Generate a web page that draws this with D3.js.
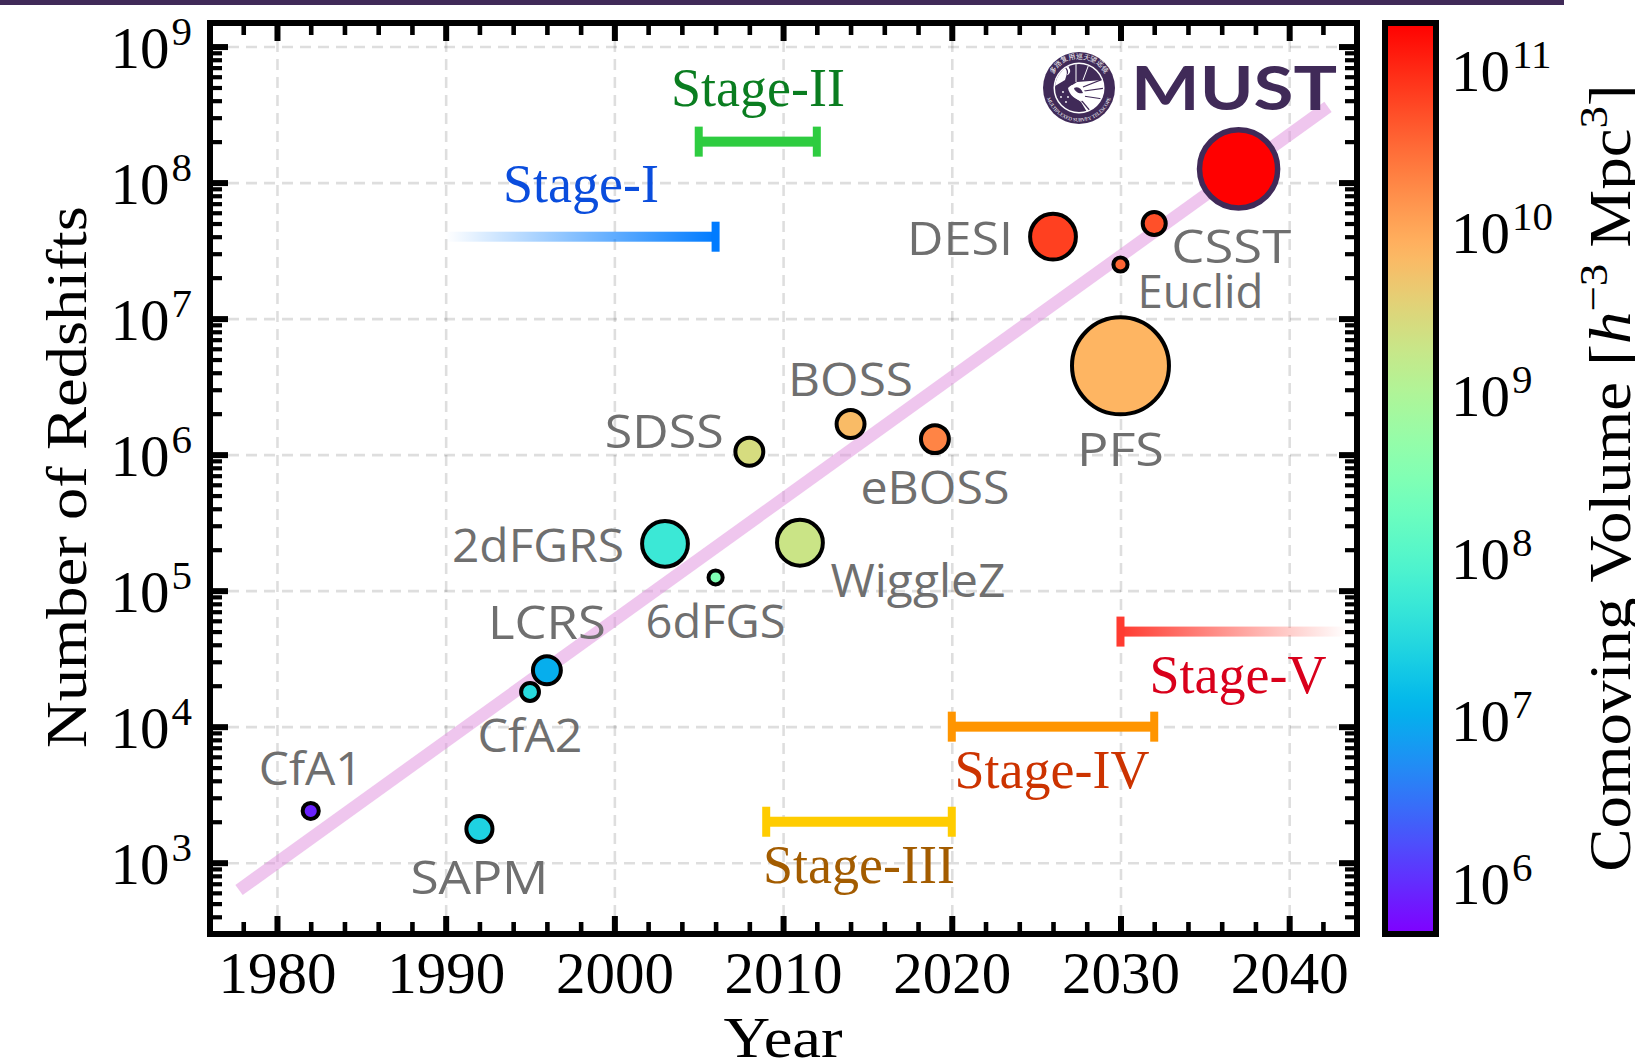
<!DOCTYPE html>
<html>
<head>
<meta charset="utf-8">
<script src="https://d3js.org/d3.v7.min.js"></script>
<style>
html, body { margin: 0; padding: 0; background: white; overflow: hidden; }
text { font-family: "Liberation Serif", serif; }
.survey { font-family: "Open Sans", sans-serif; font-size: 46px; fill: #6f6f6f; }
</style>
</head>
<body>
<div id="chart"></div>
<script>
// surveys
var surveys = ["CfA1", "SAPM", "CfA2", "LCRS", "2dFGRS", "6dFGS", "SDSS", "WiggleZ", "BOSS", "eBOSS", "PFS", "DESI", "Euclid", "CSST", "MUST"];
var years = [1982, 1992, 1995, 1996, 2003, 2006, 2008, 2011, 2014, 2019, 2030, 2026, 2030, 2032, 2037];
var redshifts = [2400, 1770, 18000, 26000, 221000, 125000, 1050000, 225000, 1680000, 1300000, 4500000, 40000000, 25000000, 50000000, 126000000];
var volumes = [8.5e5, 2.6e7, 3.4e7, 1.07e7, 5.4e7, 3e8, 2.66e9, 2e9, 6.5e9, 2e10, 7.4e9, 6.6e10, 3.5e10, 5e10, 1.85e11];
var markerArea = [2.6, 6.8, 3.2, 7.8, 21, 2, 7.8, 21, 7.8, 7.8, 94, 21, 2, 5.3, 61];

// stages
var stageNames = ["Stage-I", "Stage-II", "Stage-III", "Stage-IV", "Stage-V"];
var stageStart = [1990, 2005, 2009, 2020, 2030];
var stageEnd = [2006, 2012, 2020, 2032, 2043.4];
var stageCounts = [4e7, 2e8, 2000, 1e4, 5e4];

// trend line
var trendYears = [1977.75, 2042.3];
var trendCounts = [630, 3.6e8];

// ticks
var yearTicks = [1980, 1990, 2000, 2010, 2020, 2030, 2040];
var countTicks = [1e3, 1e4, 1e5, 1e6, 1e7, 1e8, 1e9];
var volumeTicks = [1e6, 1e7, 1e8, 1e9, 1e10, 1e11];

// label placement, pixels from the marker, and the width each label takes
var labelDx = [0, 0, 0, 0, -127, 0, -85, 118, 0, 0, 0, -93, 80, 77, 0];
var labelDy = [-26, 65, 60, -31, 18, 61, -4, 54, -28, 65, 100, 18, 44, 39, 0];
var labelWidth = [104, 138, 105, 118, 172, 140, 119, 175, 125, 149, 87, 106, 126, 120, 0];

// stage styling
var stageBarColor = ["#007bff", "#2ecc40", "#ffcc00", "#ff9500", "#ff3b30"];
var stageTextColor = ["#0a4ddd", "#0a7d20", "#a35c00", "#cc3300", "#d9001b"];
var stageTextX = [581, 758, 859, 1052, 1238];
var stageTextY = [202, 106, 883, 788, 693];

var w = 1635, h = 1060;
var margin = {top: 23, right: 278, bottom: 126, left: 210},
    width = w - margin.left - margin.right,
    height = h - margin.top - margin.bottom;

var dark = "#402a58";

var svg = d3.select("#chart").append("svg")
    .attr("width", w)
    .attr("height", h)
    .style("display", "block");

var defs = svg.append("defs");

svg.append("rect").attr("x", 0).attr("y", 0).attr("width", 1564).attr("height", 5).attr("fill", dark);

var x = d3.scaleLinear().domain([1976.03, 2044.02]).range([margin.left, margin.left + width]);
var y = d3.scaleLog().domain([299, 1.49e9]).range([margin.top + height, margin.top]);
var r = d3.scaleSqrt().domain([0, 100]).range([0, 50]);

// matplotlib's rainbow colormap
function rainbow(t) {
    var red = Math.min(1, Math.abs(2 * t - 0.5));
    var green = Math.sin(Math.PI * t);
    var blue = Math.cos(Math.PI * t / 2);
    return d3.rgb(red * 255, green * 255, blue * 255).formatHex();
}
var volumeT = d3.scaleLog().domain([5e5, 1.85e11]).range([0, 1]).clamp(true);

// grid
svg.append("g")
    .attr("transform", "translate(0," + (margin.top + height) + ")")
    .call(d3.axisBottom(x).tickValues(yearTicks).tickSize(-height).tickFormat(""))
    .call(gridStyle);
svg.append("g")
    .attr("transform", "translate(" + margin.left + ",0)")
    .call(d3.axisLeft(y).tickValues(countTicks).tickSize(-width).tickFormat(""))
    .call(gridStyle);

function gridStyle(g) {
    g.select(".domain").remove();
    g.selectAll("line")
        .attr("stroke", "#000")
        .attr("stroke-opacity", 0.13)
        .attr("stroke-width", 2.6)
        .attr("stroke-dasharray", "11 7");
}

// trend
var trend = d3.line()
    .x(function(d) { return x(d[0]); })
    .y(function(d) { return y(d[1]); });

svg.append("path")
    .datum(d3.zip(trendYears, trendCounts))
    .attr("d", trend)
    .attr("fill", "none")
    .attr("stroke", "#e08ede")
    .attr("stroke-opacity", 0.5)
    .attr("stroke-width", 12.5);

// stage bars
stageNames.forEach(function(name, i) {
    var fill = stageBarColor[i];
    var fadeIn = i === 0, fadeOut = i === 4;
    if (fadeIn || fadeOut) {
        var grad = defs.append("linearGradient").attr("id", "fade" + i);
        grad.append("stop").attr("offset", "0%").attr("stop-color", fill).attr("stop-opacity", fadeIn ? 0 : 1);
        grad.append("stop").attr("offset", "100%").attr("stop-color", fill).attr("stop-opacity", fadeIn ? 1 : 0);
        fill = "url(#fade" + i + ")";
    }
    svg.append("rect")
        .attr("x", x(stageStart[i]))
        .attr("y", y(stageCounts[i]) - 5)
        .attr("width", x(stageEnd[i]) - x(stageStart[i]))
        .attr("height", 10)
        .attr("fill", fill);

    var caps = [];
    if (!fadeIn) caps.push(stageStart[i]);
    if (!fadeOut) caps.push(stageEnd[i]);
    caps.forEach(function(c) {
        svg.append("rect")
            .attr("x", x(c) - 4)
            .attr("y", y(stageCounts[i]) - 15)
            .attr("width", 8)
            .attr("height", 30)
            .attr("fill", stageBarColor[i]);
    });

    svg.append("text")
        .attr("x", stageTextX[i])
        .attr("y", stageTextY[i])
        .attr("text-anchor", "middle")
        .attr("font-size", 54)
        .attr("fill", stageTextColor[i])
        .text(name);
});

// markers
surveys.forEach(function(name, i) {
    var isMust = name === "MUST";
    svg.append("circle")
        .attr("cx", x(years[i]))
        .attr("cy", y(redshifts[i]))
        .attr("r", r(markerArea[i]))
        .attr("fill", rainbow(volumeT(volumes[i])))
        .attr("stroke", isMust ? dark : "#000")
        .attr("stroke-width", isMust ? 5.5 : 4);
    if (!isMust) {
        svg.append("text")
            .attr("class", "survey")
            .attr("x", x(years[i]) + labelDx[i])
            .attr("y", y(redshifts[i]) + labelDy[i])
            .attr("text-anchor", "middle")
            .attr("textLength", labelWidth[i])
            .attr("lengthAdjust", "spacingAndGlyphs")
            .text(name);
    }
});

// ticks on all four sides
var minorYears = d3.range(1978, 2044, 2).filter(function(d) { return d % 10 !== 0; });
var minorCounts = y.ticks().filter(function(d) {
    var e = Math.log10(d);
    return Math.abs(e - Math.round(e)) > 1e-6;
});

function tickStyle(sw) {
    return function(g) {
        g.select(".domain").remove();
        g.selectAll("line").attr("stroke", "#000").attr("stroke-width", sw);
    };
}

[[yearTicks, 18, 6], [minorYears, 12, 4.6]].forEach(function(t) {
    svg.append("g").attr("transform", "translate(0," + (margin.top + height) + ")")
        .call(d3.axisBottom(x).tickValues(t[0]).tickSize(-t[1]).tickFormat("")).call(tickStyle(t[2]));
    svg.append("g").attr("transform", "translate(0," + margin.top + ")")
        .call(d3.axisTop(x).tickValues(t[0]).tickSize(-t[1]).tickFormat("")).call(tickStyle(t[2]));
});
[[countTicks, 18, 6], [minorCounts, 12, 4.2]].forEach(function(t) {
    svg.append("g").attr("transform", "translate(" + margin.left + ",0)")
        .call(d3.axisLeft(y).tickValues(t[0]).tickSize(-t[1]).tickFormat("")).call(tickStyle(t[2]));
    svg.append("g").attr("transform", "translate(" + (margin.left + width) + ",0)")
        .call(d3.axisRight(y).tickValues(t[0]).tickSize(-t[1]).tickFormat("")).call(tickStyle(t[2]));
});

// frame
svg.append("rect")
    .attr("x", margin.left).attr("y", margin.top)
    .attr("width", width).attr("height", height)
    .attr("fill", "none").attr("stroke", "#000").attr("stroke-width", 6);

// tick labels
var xLabels = svg.append("g")
    .attr("transform", "translate(0," + (margin.top + height) + ")")
    .call(d3.axisBottom(x).tickValues(yearTicks).tickSize(0).tickFormat(d3.format("d")));
xLabels.select(".domain").remove();
xLabels.selectAll("text")
    .attr("font-family", "Liberation Serif")
    .attr("font-size", 59)
    .attr("fill", "#000")
    .attr("dy", null)
    .attr("y", 59);

function powerLabels(g) {
    g.select(".domain").remove();
    var t = g.selectAll("text")
        .attr("font-family", "Liberation Serif")
        .attr("font-size", 59)
        .attr("fill", "#000")
        .attr("dy", null);
    t.text("10");
    t.each(function(d) {
        d3.select(this).append("tspan")
            .attr("font-size", 41)
            .attr("dy", -23)
            .attr("dx", 2)
            .text(Math.round(Math.log10(d)));
    });
}

var yLabels = svg.append("g")
    .attr("transform", "translate(" + margin.left + ",0)")
    .call(d3.axisLeft(y).tickValues(countTicks).tickSize(0).tickPadding(18).tickFormat(function() { return "10"; }))
    .call(powerLabels);
yLabels.selectAll(".tick text").attr("transform", "translate(0,21)");

svg.append("text")
    .attr("transform", "translate(86,477) rotate(-90) scale(1.114,1)")
    .attr("text-anchor", "middle")
    .attr("font-size", 58)
    .attr("fill", "#000")
    .text("Number of Redshifts");

svg.append("text")
    .attr("transform", "translate(783,1057) scale(1.115,1)")
    .attr("text-anchor", "middle")
    .attr("font-size", 58)
    .attr("fill", "#000")
    .text("Year");

// colorbar
var cbLeft = 1385, cbRight = 1436, cbTop = 23, cbBottom = 934;
var cbScale = d3.scaleLog().domain([5e5, 1.85e11]).range([cbBottom - 3, cbTop + 3]);

var cbGrad = defs.append("linearGradient").attr("id", "cbGrad")
    .attr("x1", 0).attr("y1", 1).attr("x2", 0).attr("y2", 0);
d3.range(0, 1.0001, 0.02).forEach(function(t) {
    cbGrad.append("stop").attr("offset", t).attr("stop-color", rainbow(t));
});
svg.append("rect")
    .attr("x", cbLeft).attr("y", cbTop)
    .attr("width", cbRight - cbLeft).attr("height", cbBottom - cbTop)
    .attr("fill", "url(#cbGrad)")
    .attr("stroke", "#000")
    .attr("stroke-width", 6);

var cbLabels = svg.append("g")
    .attr("transform", "translate(" + cbRight + ",0)")
    .call(d3.axisRight(cbScale).tickValues(volumeTicks).tickSize(0).tickPadding(15).tickFormat(function() { return "10"; }))
    .call(powerLabels);
cbLabels.selectAll(".tick text").attr("transform", "translate(0,21)");

var cbTitle = svg.append("text")
    .attr("transform", "translate(1630,478) rotate(-90) scale(1.1,1)")
    .attr("text-anchor", "middle")
    .attr("font-size", 59)
    .attr("fill", "#000");
cbTitle.append("tspan").text("Comoving Volume [");
cbTitle.append("tspan").attr("font-style", "italic").text("h");
cbTitle.append("tspan").attr("font-size", 41).attr("dy", -23).text("\u22123");
cbTitle.append("tspan").attr("dy", 23).text(" Mpc");
cbTitle.append("tspan").attr("font-size", 41).attr("dy", -23).text("3");
cbTitle.append("tspan").attr("dy", 23).text("]");

// MUST logo
var logo = svg.append("g").attr("transform", "translate(1079,88)");
logo.append("circle").attr("r", 36).attr("fill", dark);
defs.append("path").attr("id", "ringTop").attr("d", "M-29.5,0 A29.5,29.5 0 0 1 29.5,0");
defs.append("path").attr("id", "ringBottom").attr("d", "M-33.5,0 A33.5,33.5 0 0 0 33.5,0");
logo.append("text").attr("font-size", 7).attr("fill", "#fff").attr("text-anchor", "middle")
    .attr("font-family", "Noto Sans CJK SC")
    .append("textPath").attr("href", "#ringTop").attr("startOffset", "50%").text("多路复用巡天望远镜");
logo.append("text").attr("font-size", 5).attr("fill", "#fff").attr("text-anchor", "middle")
    .attr("font-family", "Open Sans")
    .append("textPath").attr("href", "#ringBottom").attr("startOffset", "50%").text("MULTIPLEXED SURVEY TELESCOPE");
logo.append("circle").attr("r", 25.5).attr("fill", "#fff");
defs.append("clipPath").attr("id", "sealClip").append("circle").attr("r", 24);
var seal = logo.append("g").attr("clip-path", "url(#sealClip)");
seal.append("path").attr("fill", dark).attr("d", "M-24,-24 H24 L24,-8 L-2,-6 L-8,-2 L-24,-2 Z");
seal.append("path").attr("fill", dark).attr("d", "M-24,-2 L-9,-3 L-6,8 L2,14 L8,24 L-24,24 Z");
seal.append("path").attr("fill", "#fff").attr("d", "M-24,-24 H-9 L-14,-8 L-24,-2 Z");
seal.append("circle").attr("cx", -13).attr("cy", -17).attr("r", 4.2).attr("fill", "#fff");
seal.append("path").attr("fill", dark).attr("d", "M-15,-21 A5,5 0 0 1 -13,-12 A7,7 0 0 0 -15,-21 Z");
[[4, -1, 24, -9], [5, 3, 26, 0], [4, 8, 24, 11], [2, 12, 12, 24]].forEach(function(s) {
    seal.append("line").attr("x1", s[0]).attr("y1", s[1]).attr("x2", s[2]).attr("y2", s[3])
        .attr("stroke", dark).attr("stroke-width", 1.2);
});
[[4, -8, 10, -24], [-3, -6, -3, -24]].forEach(function(s) {
    seal.append("line").attr("x1", s[0]).attr("y1", s[1]).attr("x2", s[2]).attr("y2", s[3])
        .attr("stroke", "#fff").attr("stroke-width", 1);
});
seal.append("path").attr("fill", "#fff").attr("d", "M-11,0 C-6,-6 2,-4 5,2 C8,7 5,12 3,13 C-3,12 -10,7 -11,0 Z");
seal.append("path").attr("fill", dark).attr("d", "M-5,0 C-1,-2 2,0 4,5 C0,6 -4,4 -5,0 Z");
[[-16, 4], [-11, 9], [-18, 9], [-13, 14]].forEach(function(s) {
    seal.append("circle").attr("cx", s[0]).attr("cy", s[1]).attr("r", 0.9).attr("fill", "#fff");
});

svg.append("text")
    .attr("x", 1131)
    .attr("y", 110)
    .style("font-family", "Lato")
    .attr("font-weight", 700)
    .attr("font-size", 62)
    .attr("fill", dark)
    .attr("textLength", 206)
    .attr("lengthAdjust", "spacingAndGlyphs")
    .text("MUST");
</script>
</body>
</html>
